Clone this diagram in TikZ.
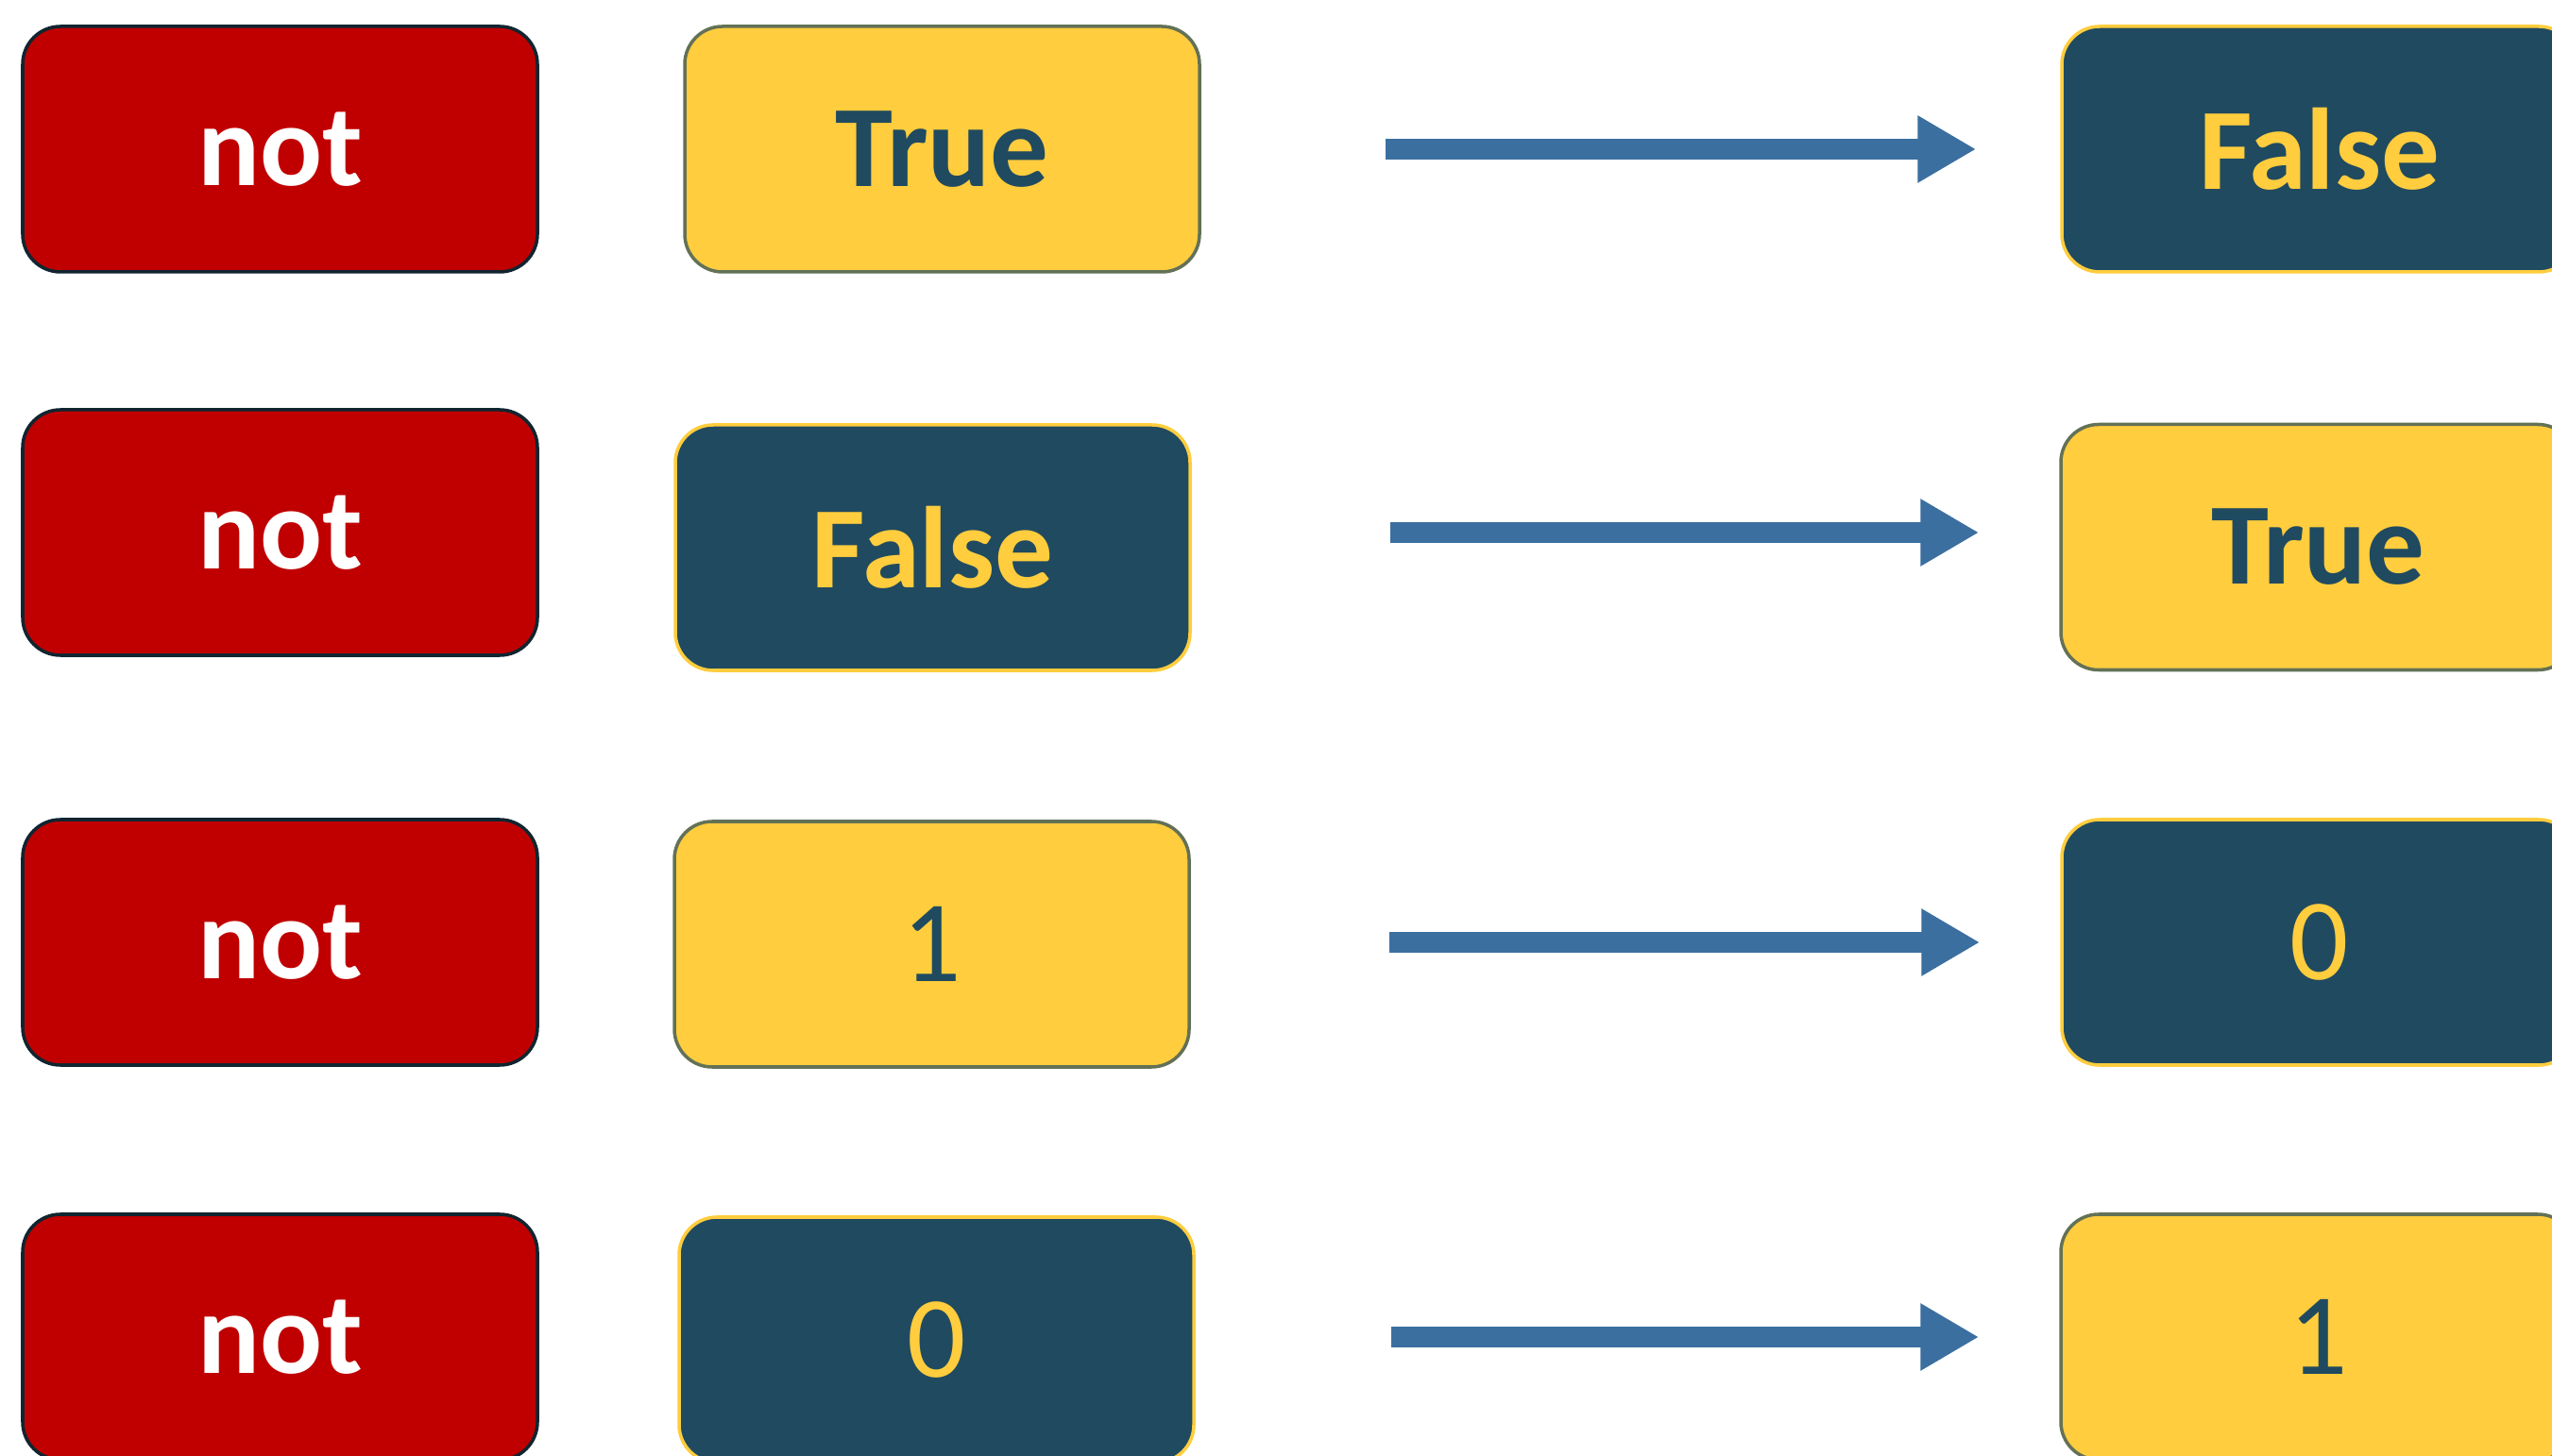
\documentclass[tikz,border=0pt]{standalone}
\usepackage{fontspec}
\setmainfont{Carlito}
\usepackage{xcolor}
\definecolor{notRed}{RGB}{192, 0, 0}
\definecolor{notYellow}{RGB}{255, 205, 61}
\definecolor{notDark}{RGB}{32, 74, 96}
\definecolor{notBlue}{RGB}{59, 111, 160}
\usepackage{tikz}
\usetikzlibrary{
    arrows.meta
}

\begin{document}
\begin{tikzpicture}[
    valueBox/.style={
        rectangle, rounded corners=0.4cm,
        line width=1pt, inner sep=0pt,
        minimum width=5.45cm, minimum height=2.6cm,
        font=\fontsize{35}{42}\selectfont\bfseries
    },
    notOp/.style={
        valueBox,
        draw=notDark!50!black, fill=notRed, text=white
    },
    boolLight/.style={
        valueBox,
        draw=notDark!70!notYellow, fill=notYellow, text=notDark
    },
    boolDark/.style={
        valueBox,
        draw=notYellow, fill=notDark, text=notYellow
    },
    numLight/.style={
        boolLight, font=\fontsize{35}{42}\selectfont
    },
    numDark/.style={
        boolDark, font=\fontsize{35}{42}\selectfont
    },
    flowArrow/.style={
        -{Triangle[length=6.2mm, width=6.7mm]},
        line width=2.2mm, draw=notBlue
    }
]

    \useasboundingbox (0, 0) rectangle (27.02, 15.41);

    % Operators
    \node[notOp] (n1) at (2.965, 13.83) {not};
    \node[notOp] (n2) at (2.965, 9.77) {not};
    \node[notOp] (n3) at (2.965, 5.43) {not};
    \node[notOp] (n4) at (2.965, 1.25) {not};

    % Operands
    \node[boolLight] (t1) at (9.975, 13.83) {True};
    \node[boolDark] (t2) at (9.875, 9.61) {False};
    \node[numLight] (t3) at (9.865, 5.41) {1};
    \node[numDark] (t4) at (9.915, 1.22) {0};

    % Results
    \node[boolDark] (r1) at (24.555, 13.83) {False};
    \node[boolLight] (r2) at (24.545, 9.615) {True};
    \node[numDark] (r3) at (24.555, 5.43) {0};
    \node[numLight] (r4) at (24.545, 1.25) {1};

    % Flows
    \draw[flowArrow, shorten <=1.95cm, shorten >=0.89cm] (n1 -| t1.east) -- (n1 -| r1.west);
    \draw[flowArrow, shorten <=2.1cm, shorten >=0.85cm] (n2 -| t2.east) -- (n2 -| r2.west);
    \draw[flowArrow, shorten <=2.1cm, shorten >=0.85cm] (n3 -| t3.east) -- (n3 -| r3.west);
    \draw[flowArrow, shorten <=2.07cm, shorten >=0.85cm] (n4 -| t4.east) -- (n4 -| r4.west);

\end{tikzpicture}
\end{document}
